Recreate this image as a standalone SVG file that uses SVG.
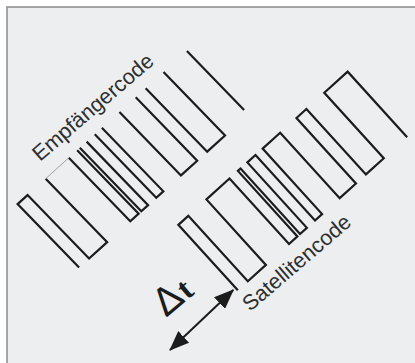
<svg xmlns="http://www.w3.org/2000/svg" width="415" height="363" viewBox="0 0 415 363">
<defs>
<style>
.wave{fill:none;stroke:#1c1c1c;stroke-width:2.2;stroke-linejoin:miter;stroke-linecap:butt}
.faint{fill:none;stroke:#a0a0a0;stroke-width:1}
.lbl{font-family:"Liberation Sans",Arial,sans-serif;font-size:21.5px;fill:#2e2e2e}
.delta{font-family:"Liberation Sans",Arial,sans-serif;font-size:40px;fill:#1c1c1c}
.tt{font-family:"Liberation Serif","Times New Roman",serif;font-size:32px;font-weight:bold;fill:#1c1c1c}
.conn{fill:none;stroke:#1c1c1c;stroke-width:2}
</style>
<marker id="ah" viewBox="0 0 20 16" refX="19" refY="8" markerWidth="20" markerHeight="16" markerUnits="userSpaceOnUse" orient="auto-start-reverse">
<path d="M0,0 L20,8 L0,16 z" fill="#1c1c1c"/>
</marker>
</defs>
<rect x="7" y="7" width="420" height="370" fill="#eceef0" stroke="#8a8a8a" stroke-width="1.5"/>
<g id="receiver-code" transform="matrix(0.525 -0.475 0.615 0.635 42 182)">
<path class="wave" vector-effect="non-scaling-stroke" d="M-46.5,100 V0 H-27.5 V100 H7 V0 M51,0 V100 H67 V0 M72,0 V100 H85 V0 M100.5,0 V100 H114 V0 M147.5,0 V100 H178.5 V0 M197.5,0 V100 H231.5 V0 M276,0 V93"/>
<path class="faint" vector-effect="non-scaling-stroke" d="M7,0 H51"/>
</g>
<g id="satellite-code" transform="matrix(0.525 -0.475 0.595 0.655 202.75 202.75)">
<path class="wave" vector-effect="non-scaling-stroke" d="M-46.5,100 V0 H-27.5 V100 H7 V0 H51 V100 H67 V0 H72 V100 H85 V0 H100.5 V100 H114 V0 H147.5 V100 H178.5 V0 H197.5 V100 H231.5 V0 H276 V100"/>
</g>
<g id="label-empfaenger">
<text class="lbl" transform="translate(40,162) rotate(-40.6)">Empfängercode</text>
</g>
<g id="label-satellit">
<text class="lbl" transform="translate(250,312) rotate(-40.5)">Satellitencode</text>
</g>
<g id="label-delta-t">
<text transform="translate(166,318) rotate(-40)"><tspan class="delta">Δ</tspan><tspan class="tt" dx="1">t</tspan></text>
</g>
<g id="connectors">
<line class="conn" x1="170" y1="350" x2="233.3" y2="290" marker-start="url(#ah)" marker-end="url(#ah)"/>
</g>
</svg>
